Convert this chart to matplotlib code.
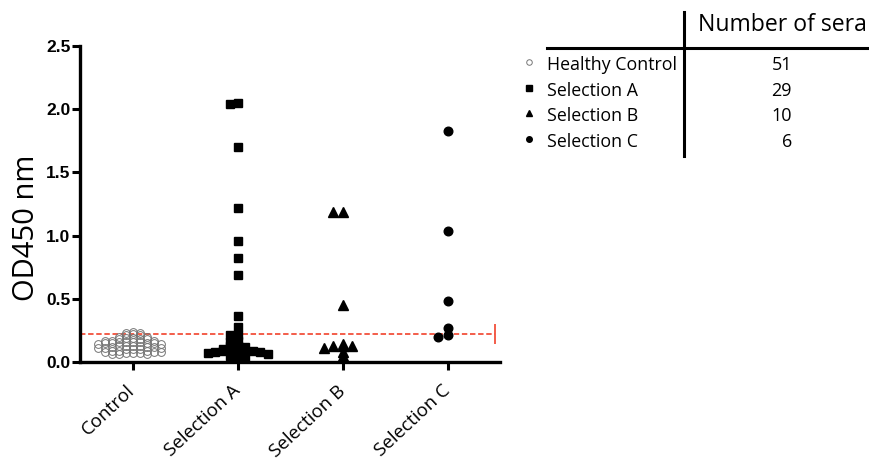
import numpy as np
import matplotlib
matplotlib.use("Agg")
import matplotlib.pyplot as plt

# data
groups = ["Control", "Selection A", "Selection B", "Selection C"]
control = [0.24, 0.23, 0.23,
           0.22, 0.21, 0.21, 0.20, 0.20,
           0.19, 0.19, 0.18, 0.18, 0.18, 0.17, 0.17, 0.17,
           0.16, 0.16, 0.16, 0.16, 0.15, 0.15, 0.15, 0.15, 0.14, 0.14,
           0.13, 0.13, 0.13, 0.13, 0.12, 0.12, 0.12, 0.11, 0.11, 0.11,
           0.10, 0.10, 0.10, 0.09, 0.09, 0.09, 0.08, 0.08, 0.08,
           0.07, 0.07, 0.07, 0.06, 0.06, 0.06]
sel_a = [2.05, 2.04, 1.70, 1.22, 0.96, 0.82, 0.69, 0.36, 0.28, 0.21,
         0.21, 0.17, 0.155, 0.13, 0.13, 0.12, 0.10, 0.09, 0.09, 0.09,
         0.09, 0.09, 0.08, 0.08, 0.07, 0.06, 0.05, 0.05, 0.04]
sel_b = [1.19, 1.19, 0.45, 0.14, 0.13, 0.13, 0.13, 0.11, 0.08, 0.05]
sel_c = [1.83, 1.04, 0.48, 0.27, 0.21, 0.20]
cutoff = 0.22

legend_names = ["Healthy Control", "Selection A", "Selection B", "Selection C"]
n_sera = [51, 29, 10, 6]

W, H = 869, 463
fig = plt.figure(figsize=(W / 100, H / 100), dpi=100)
ax = fig.add_axes([80 / W, 1 - 362 / H, 420 / W, 316 / H])
ax.set_xlim(-0.5, 3.5)
ax.set_ylim(0, 2.5)

xpx = 420 / 4.0  # pixels per x unit


def scatter_x(vals, pos, row_h, step):
    # prism-style column scatter: values sharing a row are spread 0, -1, +1, -2, ...
    vals = np.asarray(vals, dtype=float)
    rows = np.floor(vals / row_h + 0.5).astype(int)
    offs = np.zeros(len(vals))
    for r in np.unique(rows):
        idx = np.where(rows == r)[0]
        for j, i in enumerate(idx):
            k = (j + 1) // 2
            offs[i] = -k if j % 2 else k
    return pos + offs * step / xpx


ax.plot(scatter_x(control, 0, 0.03, 7.0), control, "o", ms=5.6, mfc="none",
        mec="#757575", mew=0.7, ls="none", clip_on=False, zorder=3)
ax.plot(scatter_x(sel_a, 1, 0.04, 7.5), sel_a, "s", ms=6.0, color="black",
        ls="none", clip_on=False, zorder=3)
ax.plot(scatter_x(sel_b, 2, 0.04, 9.5), sel_b, "^", ms=6.5, color="black",
        ls="none", clip_on=False, zorder=3)
ax.plot(scatter_x(sel_c, 3, 0.04, 9.5), sel_c, "o", ms=6.2, color="black",
        ls="none", clip_on=False, zorder=3)

# cutoff line
ax.plot([-0.5, 3.45], [cutoff, cutoff], ls=(0, (3, 1.5)), color="#f2503c", lw=1.3,
        marker="|", ms=14, mew=1.3, clip_on=False, zorder=2)

for s in ["top", "right"]:
    ax.spines[s].set_visible(False)
for s in ["left", "bottom"]:
    ax.spines[s].set_linewidth(2.4)
ax.tick_params(width=2.2, length=6, direction="out")
ax.set_yticks([0, 0.5, 1.0, 1.5, 2.0, 2.5])
ax.set_yticklabels(["0.0", "0.5", "1.0", "1.5", "2.0", "2.5"],
                   fontfamily="Liberation Sans", fontweight="bold", fontsize=12.5)
ax.tick_params(axis="y", pad=1)
ax.set_xticks(range(len(groups)))
ax.set_xticklabels(groups, rotation=43, ha="right", va="center", rotation_mode="anchor",
                   fontfamily="Open Sans", fontsize=13.5)
ax.tick_params(axis="x", pad=13)
ax.set_ylabel("OD450 nm", fontfamily="Open Sans", fontsize=21)
ax.yaxis.set_label_coords(-0.093, 0.424)

# table-like legend on the right, drawn in pixel coordinates
lg = fig.add_axes([0, 0, 1, 1], zorder=-1)
lg.set_xlim(0, W)
lg.set_ylim(H, 0)
lg.axis("off")
lg.plot([684, 684], [12, 156], color="black", lw=2.2)
lg.plot([547, W], [48, 48], color="black", lw=2.2)
lg.text(698, 25, "Number of sera", fontfamily="Open Sans", fontsize=16.6,
        va="center", ha="left")
sym = [dict(marker="o", ms=4, mfc="none", mec="#777", mew=0.7),
       dict(marker="s", ms=4.5, color="black"),
       dict(marker="^", ms=4.5, color="black"),
       dict(marker="o", ms=4, color="black")]
for i, (name, n) in enumerate(zip(legend_names, n_sera)):
    y = 65 + i * 25.7
    lg.plot([529], [y - 3], ls="none", **sym[i])
    lg.text(547, y, name, fontfamily="Open Sans", fontsize=12.8, va="center", ha="left")
    lg.text(792, y, str(n), fontfamily="Open Sans", fontsize=13, va="center", ha="right")

fig.savefig("out.png", dpi=100)
